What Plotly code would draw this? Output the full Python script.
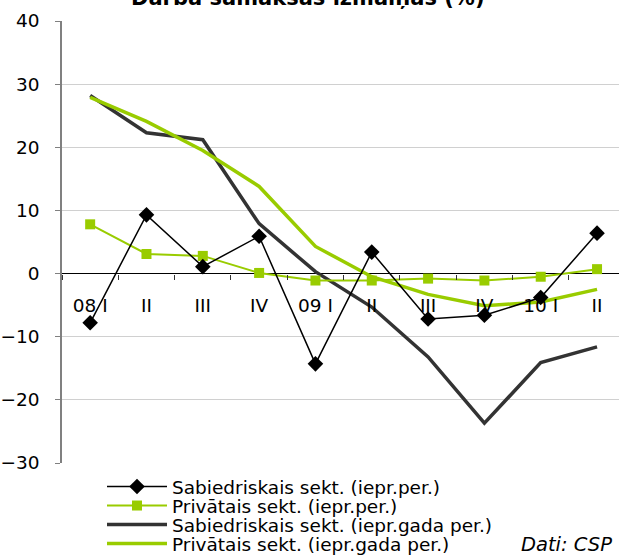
import plotly.graph_objects as go

categories = ["08 I", "II", "III", "IV", "09 I", "II", "III", "IV", "10 I", "II"]
pub_qoq = [-7.8, 9.3, 1.1, 5.9, -14.3, 3.4, -7.2, -6.6, -3.8, 6.4]
priv_qoq = [7.8, 3.1, 2.8, 0.1, -1.1, -1.1, -0.8, -1.1, -0.5, 0.7]
pub_yoy = [28.2, 22.3, 21.2, 7.9, 0.3, -5.3, -13.2, -23.7, -14.1, -11.6]
priv_yoy = [27.9, 24.1, 19.5, 13.8, 4.3, -0.5, -3.3, -5.1, -4.5, -2.5]
names = ["Sabiedriskais sekt. (iepr.per.)", "Privātais sekt. (iepr.per.)",
         "Sabiedriskais sekt. (iepr.gada per.)", "Privātais sekt. (iepr.gada per.)"]
y_ticks = [-30, -20, -10, 0, 10, 20, 30, 40]

x = list(range(len(categories)))
GREEN = "#99cc00"
FONT = "DejaVu Sans"

# plot area in pixels
W, H = 619, 558
L, T, B = 62, 21, 95
PH = H - T - B
PW = W - L


def py(p):
    return (H - B - p) / PH


def px(p):
    return (p - L) / PW


fig = go.Figure()
fig.add_trace(go.Scatter(x=x, y=pub_yoy, name=names[2], mode="lines",
                         line=dict(color="#333333", width=3.5), legend="legend3"))
fig.add_trace(go.Scatter(x=x, y=priv_yoy, name=names[3], mode="lines",
                         line=dict(color=GREEN, width=3.5), legend="legend4"))
fig.add_trace(go.Scatter(x=x, y=priv_qoq, name=names[1], mode="lines+markers",
                         line=dict(color=GREEN, width=2),
                         marker=dict(symbol="square", size=10, color=GREEN), legend="legend2"))
fig.add_trace(go.Scatter(x=x, y=pub_qoq, name=names[0], mode="lines+markers",
                         line=dict(color="black", width=1.5),
                         marker=dict(symbol="diamond", size=12, color="black"), legend="legend"))

rows = [487, 506, 525, 544]
leg_common = dict(x=px(102), xanchor="left", yanchor="middle", bgcolor="rgba(0,0,0,0)",
                  borderwidth=0, font=dict(family=FONT, size=18.5, color="black"),
                  itemwidth=60)

fig.update_layout(
    width=W, height=H,
    margin=dict(l=L, r=0, t=T, b=B, autoexpand=False),
    paper_bgcolor="white", plot_bgcolor="white",
    font=dict(family=FONT, size=18.5, color="black"),
    showlegend=True,
    legend=dict(y=py(rows[0]), **leg_common),
    legend2=dict(y=py(rows[1]), **leg_common),
    legend3=dict(y=py(rows[2]), **leg_common),
    legend4=dict(y=py(rows[3]), **leg_common),
    xaxis=dict(range=[-0.5, 9.39], anchor="free", position=(0 - y_ticks[0]) / (y_ticks[-1] - y_ticks[0]),
               automargin=False,
               showgrid=False, zeroline=False, showline=False,
               tickmode="array", tickvals=x, ticktext=categories, ticks="",
               ticklabelstandoff=19,
               tickfont=dict(family=FONT, size=18.5, color="black"),
               minor=dict(tickvals=[i - 0.5 for i in x], ticks="outside", ticklen=5,
                          tickcolor="#333333", tickwidth=1, showgrid=False)),
    yaxis=dict(range=[y_ticks[0], y_ticks[-1]], tickmode="array", tickvals=y_ticks,
               automargin=False,
               showgrid=True, gridcolor="#d0d0d0", gridwidth=1,
               zeroline=True, zerolinecolor="black", zerolinewidth=1,
               showline=True, linecolor="#808080", linewidth=1.5,
               ticks="outside", ticklen=5, tickcolor="#808080",
               ticklabelstandoff=12,
               tickfont=dict(family=FONT, size=18.5, color="black")),
    annotations=[
        dict(text="<b>Darba samaksas izmaiņas (%)</b>", xref="paper", yref="paper",
             x=px(307), y=py(-2), xanchor="center", yanchor="middle", showarrow=False,
             font=dict(family=FONT, size=21, color="black")),
        dict(text="<i>Dati: CSP</i>", xref="paper", yref="paper",
             x=px(614), y=py(rows[3]), xanchor="right", yanchor="middle", showarrow=False,
             font=dict(family=FONT, size=19.5, color="black")),
    ],
)

fig.write_html("out.html", config={"displayModeBar": False},
               post_script="document.body.style.margin='0px';")
